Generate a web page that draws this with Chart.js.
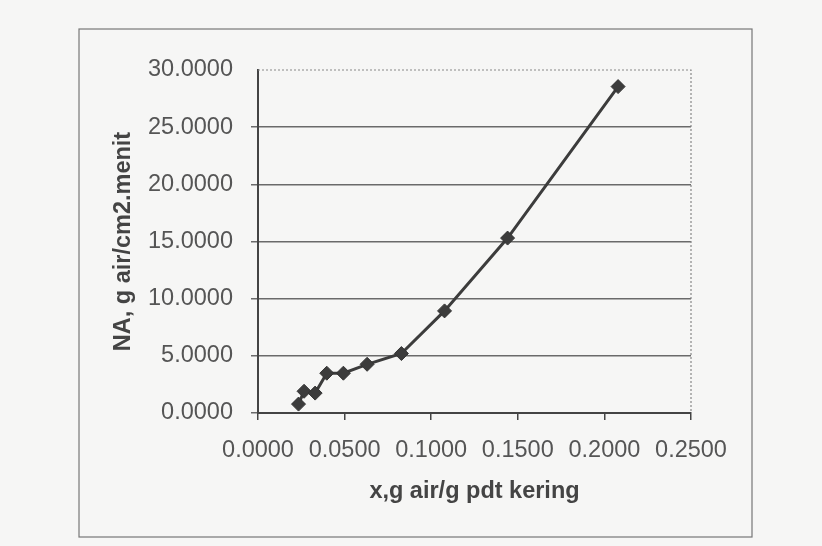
<!DOCTYPE html>
<html>
<head>
<meta charset="utf-8">
<script src="https://cdn.jsdelivr.net/npm/chart.js@4.4.1/dist/chart.umd.min.js"></script>
<style>
  html, body { margin: 0; padding: 0; background: #f6f6f5; }
  #wrap { width: 822px; height: 546px; position: relative; }
</style>
</head>
<body>
<div id="wrap"><canvas id="grafik"></canvas></div>
<script>
// data
const xKadarAir = [0.0234, 0.0266, 0.0330, 0.0397, 0.0493, 0.0630, 0.0828, 0.1077, 0.1441, 0.2079];
const yLaju = [0.78, 1.90, 1.74, 3.48, 3.48, 4.26, 5.20, 8.93, 15.30, 28.55];

const judulX = 'x,g air/g pdt kering';
const judulY = 'NA, g air/cm2.menit';

const xTicks = [0, 0.05, 0.10, 0.15, 0.20, 0.25];
const yTicks = [0, 5, 10, 15, 20, 25, 30];

const titik = xKadarAir.map((x, i) => ({ x: x, y: yLaju[i] }));

// bingkai luar + garis titik-titik atas/kanan area plot
const bingkai = {
    id: 'bingkai',
    beforeDraw(chart) {
        const c = chart.ctx;
        c.save();
        c.strokeStyle = '#777';
        c.lineWidth = 1.2;
        c.strokeRect(79, 29, 673, 508);
        c.restore();
    },
    afterDatasetsDraw(chart) {
        const a = chart.chartArea;
        const c = chart.ctx;
        c.save();
        c.strokeStyle = '#888';
        c.lineWidth = 1.2;
        c.setLineDash([2, 2]);
        c.beginPath();
        c.moveTo(a.left, a.top);
        c.lineTo(a.right, a.top);
        c.lineTo(a.right, a.bottom);
        c.stroke();
        c.restore();
    }
};

const hurufTick = { family: 'Liberation Sans', size: 23.5 };
const hurufJudul = { family: 'Liberation Sans', size: 23.5, weight: 'bold' };

new Chart(document.getElementById('grafik'), {
    type: 'scatter',
    data: {
        datasets: [{
            data: titik,
            showLine: true,
            borderColor: '#3c3c3c',
            borderWidth: 3,
            backgroundColor: '#3c3c3c',
            pointStyle: 'rectRot',
            pointRadius: 7,
            pointBorderWidth: 1,
            pointBorderColor: '#333',
            tension: 0
        }]
    },
    plugins: [bingkai],
    options: {
        responsive: true,
        maintainAspectRatio: false,
        animation: false,
        layout: { padding: { left: 109, right: 131, top: 70, bottom: 40 } },
        plugins: { legend: { display: false }, tooltip: { enabled: false } },
        scales: {
            x: {
                type: 'linear',
                min: 0,
                max: 0.25,
                afterBuildTicks: (s) => { s.ticks = xTicks.map(v => ({ value: v })); },
                afterFit: (s) => { s.height = 93; },
                ticks: {
                    color: '#555',
                    font: hurufTick,
                    padding: 16,
                    callback: (v) => Number(v).toFixed(4)
                },
                grid: { drawOnChartArea: false, drawTicks: true, tickLength: 7, color: '#444', lineWidth: 1.5 },
                border: { color: '#444', width: 2 },
                title: {
                    display: true,
                    text: judulX,
                    color: '#444',
                    font: hurufJudul,
                    padding: { top: 0, bottom: 0 }
                }
            },
            y: {
                type: 'linear',
                min: 0,
                max: 30,
                afterBuildTicks: (s) => { s.ticks = yTicks.map(v => ({ value: v })); },
                afterFit: (s) => { s.width = 149; },
                ticks: {
                    color: '#555',
                    font: hurufTick,
                    padding: 18,
                    callback: (v) => Number(v).toFixed(4)
                },
                grid: {
                    drawTicks: true,
                    tickLength: 7,
                    lineWidth: 1.5,
                    color: (ctx) => (ctx.tick && ctx.tick.value === 30) ? 'rgba(0,0,0,0)' : '#6a6a6a'
                },
                border: { color: '#444', width: 2 },
                title: {
                    display: true,
                    text: judulY,
                    color: '#444',
                    font: hurufJudul,
                    padding: { top: 0, bottom: 0 }
                }
            }
        }
    }
});
</script>
</body>
</html>
